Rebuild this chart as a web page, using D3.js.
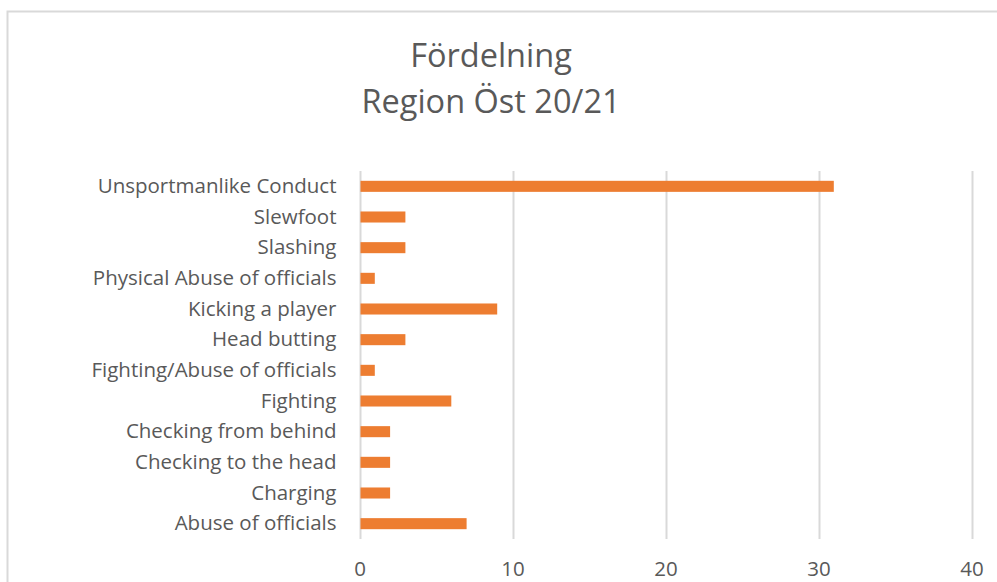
<meta charset="utf-8">
<script src="https://d3js.org/d3.v7.min.js"></script>
<style>
  body { margin: 0; background: #fff; }
  text { font-family: "Open Sans", sans-serif; fill: #595959; }
</style>
<div id="chart"></div>
<script>
  // categories bottom -> top like the excel chart
  const categories = ["Abuse of officials", "Charging", "Checking to the head", "Checking from behind",
    "Fighting", "Fighting/Abuse of officials", "Head butting", "Kicking a player",
    "Physical Abuse of officials", "Slashing", "Slewfoot", "Unsportmanlike Conduct"]
  const values = [7, 2, 2, 2, 6, 1, 3, 9, 1, 3, 3, 31]
  const xTicks = [0, 10, 20, 30, 40]
  const titleLines = ["Fördelning", "Region Öst 20/21"]

  const width = 997, height = 582
  const plot = {left: 359.5, right: 971.5, top: 171, bottom: 539}

  const svg = d3.select("#chart").append("svg")
    .attr("width", width)
    .attr("height", height)

  // outer chart border
  svg.append("rect")
    .attr("x", 7.5).attr("y", 11.5)
    .attr("width", 1000).attr("height", 600)
    .attr("fill", "none").attr("stroke", "#d9d9d9").attr("stroke-width", 2)

  svg.selectAll(".title")
    .data(titleLines)
    .enter().append("text")
    .attr("x", 491)
    .attr("y", (d, i) => 67 + i * 46)
    .attr("text-anchor", "middle")
    .style("font-size", "32.5px")
    .text(d => d)

  const x = d3.scaleLinear().domain([0, 40]).range([plot.left, plot.right])
  const y = d3.scaleBand()
    .domain(categories.slice().reverse())
    .range([plot.top, plot.bottom])
    .paddingInner(0.64).paddingOuter(0.32)

  // gridlines
  svg.append("g")
    .selectAll("line")
    .data(xTicks)
    .enter().append("line")
    .attr("x1", d => Math.round(x(d)) + 0.5).attr("x2", d => Math.round(x(d)) + 0.5)
    .attr("y1", plot.top).attr("y2", plot.bottom)
    .attr("stroke", "#d9d9d9").attr("stroke-width", 2)

  const xaxis = d3.axisBottom(x).tickValues(xTicks).tickSize(0).tickPadding(0)
  const gx = svg.append("g")
    .attr("transform", "translate(0," + 576 + ")")
    .call(xaxis)
  gx.select(".domain").remove()
  gx.selectAll("text").attr("dy", 0).style("font-size", "20.5px").style("font-family", null).attr("fill", null)

  const yaxis = d3.axisLeft(y).tickSize(0).tickPadding(23)
  const gy = svg.append("g")
    .attr("transform", "translate(" + plot.left + ",0)")
    .call(yaxis)
  gy.select(".domain").remove()
  gy.selectAll("text").style("font-size", "20.5px").style("font-family", null).attr("fill", null)

  svg.append("g")
    .selectAll("rect")
    .data(values)
    .enter().append("rect")
    .attr("x", x(0) + 1)
    .attr("y", (d, i) => y(categories[i]))
    .attr("width", d => x(d) - x(0) - 1)
    .attr("height", y.bandwidth())
    .attr("fill", "#ed7d31")
</script>
